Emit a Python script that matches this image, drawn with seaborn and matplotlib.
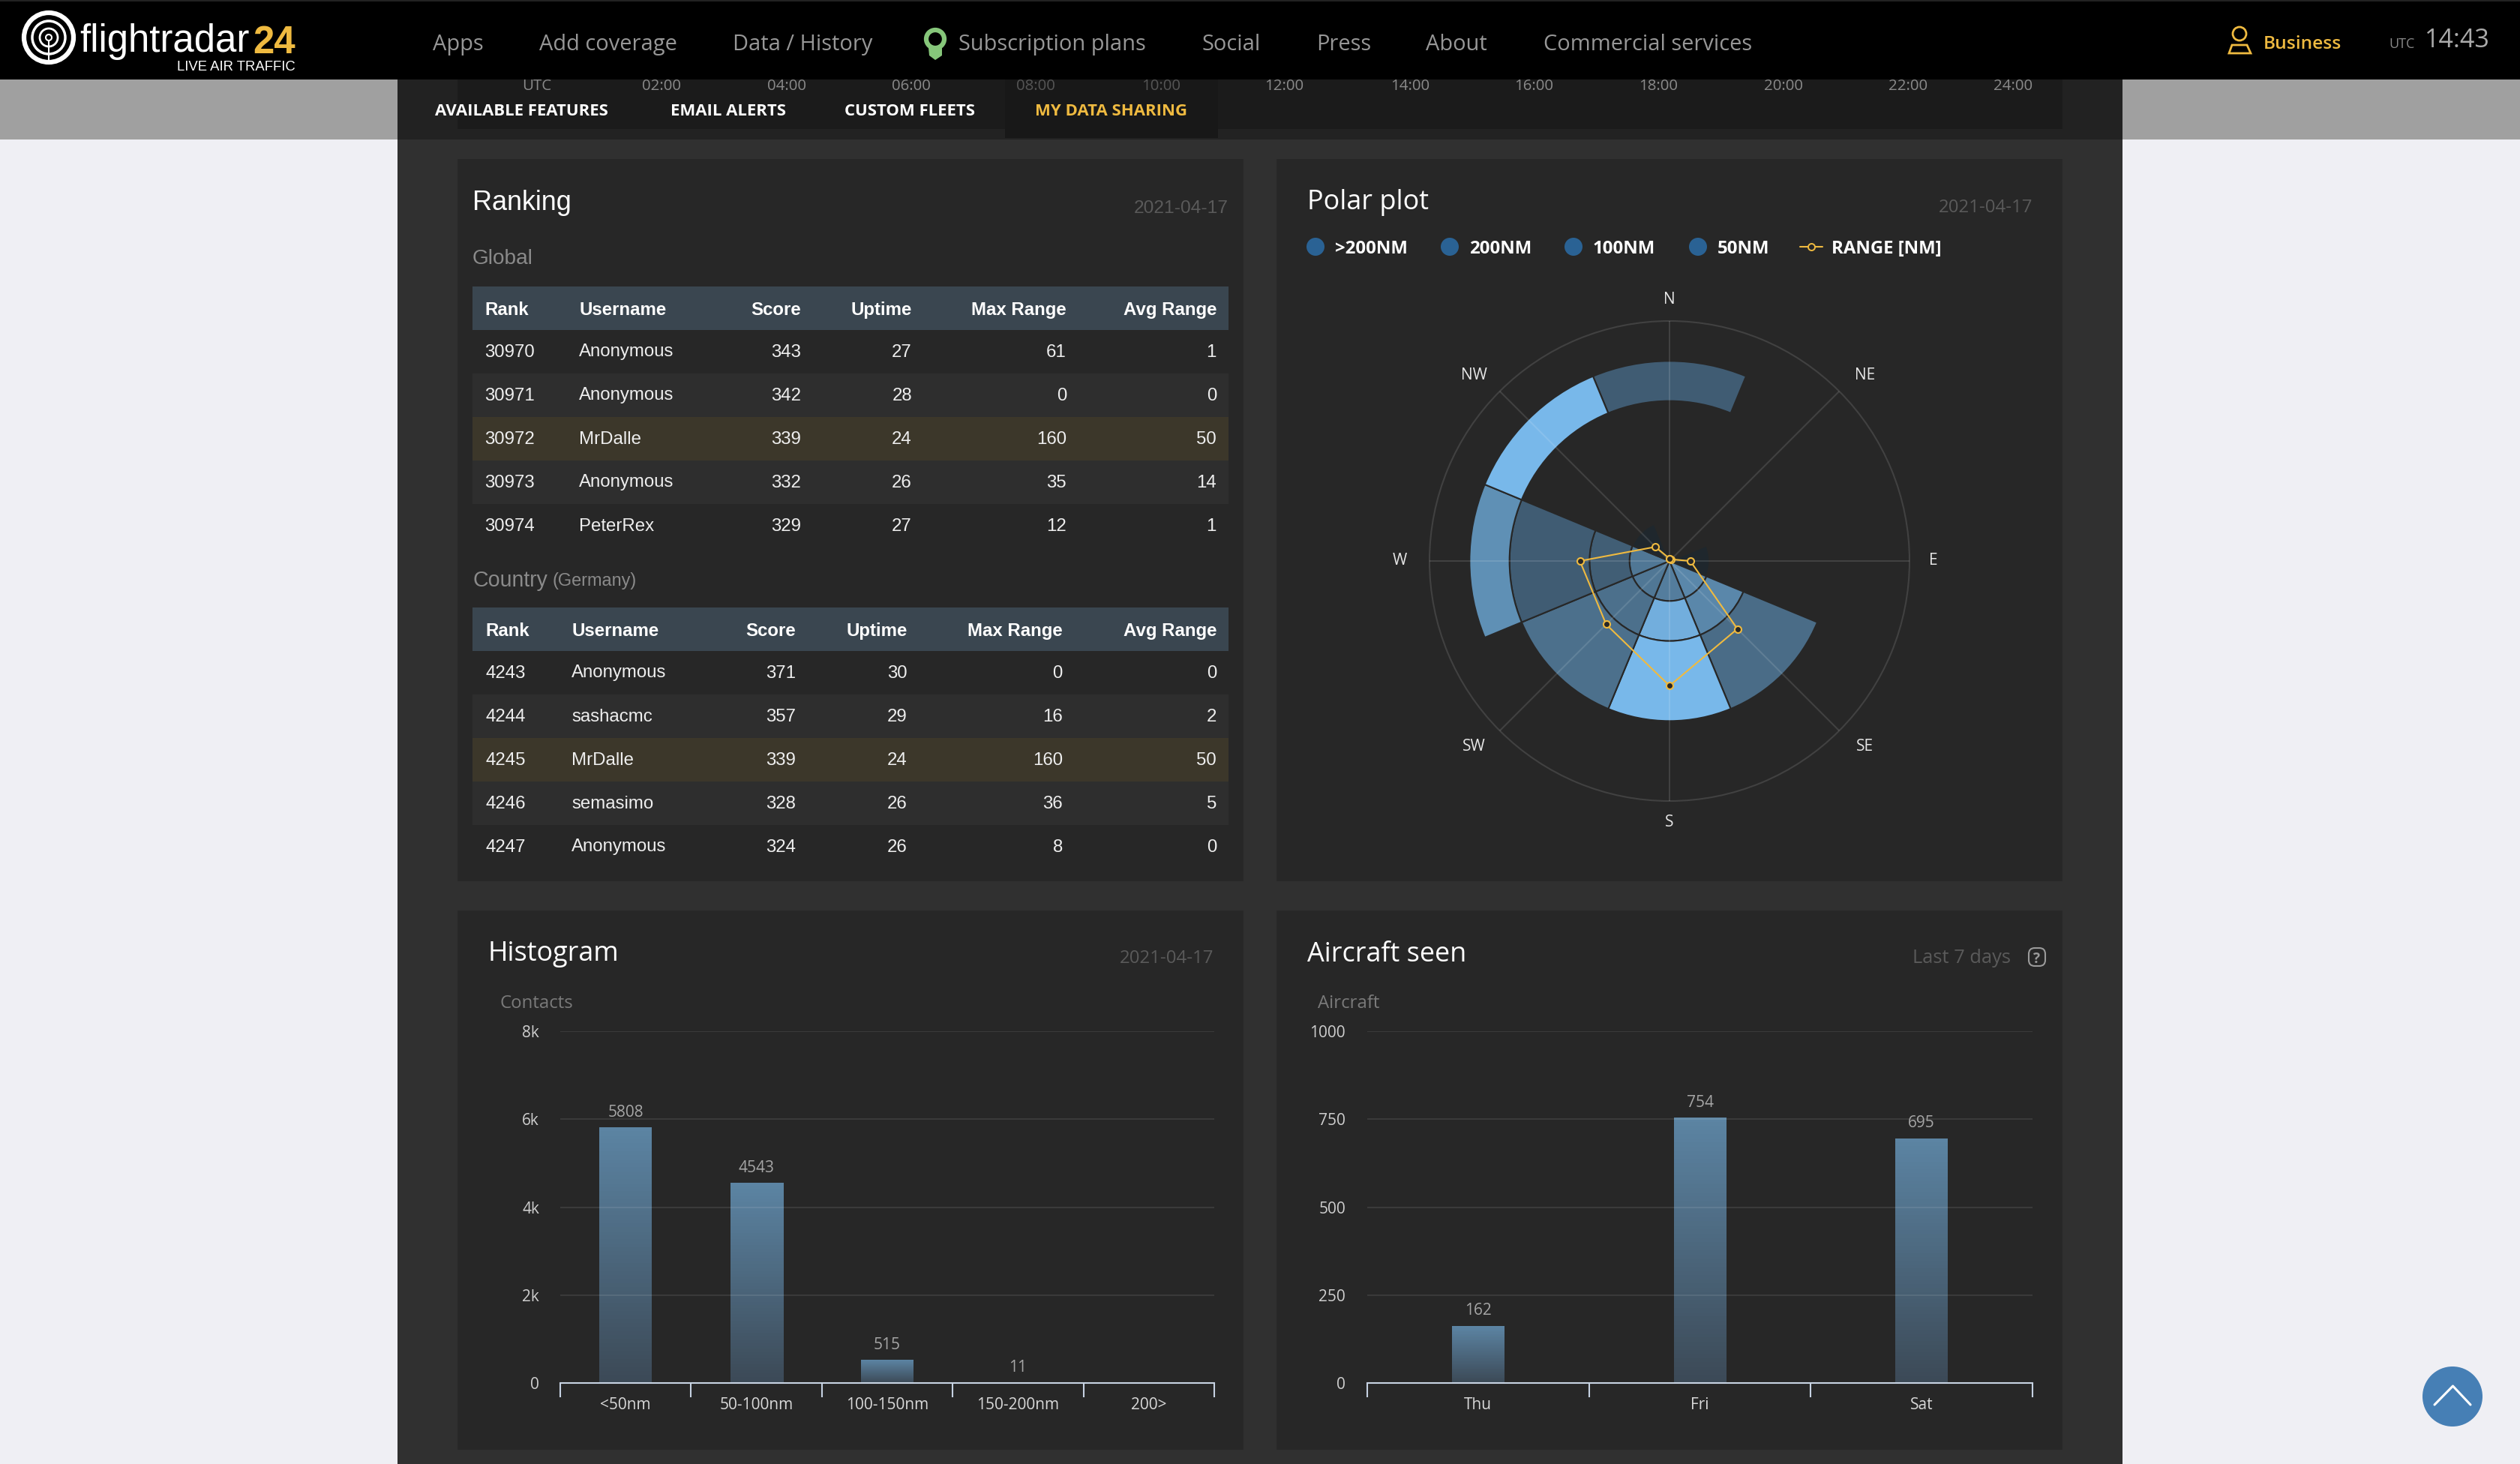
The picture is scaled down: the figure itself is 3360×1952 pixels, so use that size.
import numpy as np
import seaborn as sns
import matplotlib.pyplot as plt
from matplotlib import font_manager
from matplotlib.colors import LinearSegmentedColormap
from matplotlib.patches import Rectangle, Circle, FancyBboxPatch, Polygon

W, H = 3360, 1952

# ranking tables
table_cols = ["Rank", "Username", "Score", "Uptime", "Max Range", "Avg Range"]
global_rank = [30970, 30971, 30972, 30973, 30974]
global_user = ["Anonymous", "Anonymous", "MrDalle", "Anonymous", "PeterRex"]
global_score = [343, 342, 339, 332, 329]
global_uptime = [27, 28, 24, 26, 27]
global_max = [61, 0, 160, 35, 12]
global_avg = [1, 0, 50, 14, 1]
country_rank = [4243, 4244, 4245, 4246, 4247]
country_user = ["Anonymous", "sashacmc", "MrDalle", "semasimo", "Anonymous"]
country_score = [371, 357, 339, 328, 324]
country_uptime = [30, 29, 24, 26, 26]
country_max = [0, 16, 160, 36, 8]
country_avg = [0, 2, 50, 5, 0]

# polar plot, NaN = nothing drawn in that cell
directions = ["N", "NE", "E", "SE", "S", "SW", "W", "NW"]
ring_inner = [0, 50, 100, 200]
ring_outer = [50, 100, 200, 250]
cells_50 = [np.nan, np.nan, 0.0, 0.66, 0.59, 0.55, 0.55, 0.0]
cells_100 = [np.nan, np.nan, np.nan, 0.66, 0.93, 0.5, 0.38, np.nan]
cells_200 = [np.nan, np.nan, np.nan, 0.48, 1.0, 0.5, 0.37, np.nan]
cells_over = [0.37, np.nan, np.nan, np.nan, np.nan, np.nan, 0.72, 1.0]
range_nm = [3, 3, 26, 120, 156, 112, 112, 25]

# bar panels
hist_cats = ["<50nm", "50-100nm", "100-150nm", "150-200nm", "200>"]
hist_vals = [5808, 4543, 515, 11, 0]
hist_ticks = [0, 2000, 4000, 6000, 8000]
hist_tick_labels = ["0", "2k", "4k", "6k", "8k"]
seen_cats = ["Thu", "Fri", "Sat"]
seen_vals = [162, 754, 695]
seen_ticks = [0, 250, 500, 750, 1000]
seen_tick_labels = ["0", "250", "500", "750", "1000"]

nav_items = ["Apps", "Add coverage", "Data / History", "Subscription plans", "Social", "Press", "About", "Commercial services"]
nav_x = [577, 719, 977, 1278, 1602, 1755, 1901, 2058]
time_labels = ["UTC", "02:00", "04:00", "06:00", "08:00", "10:00", "12:00", "14:00", "16:00", "18:00", "20:00", "22:00", "24:00"]
time_x = [716, 882, 1049, 1215, 1381, 1548, 1712, 1880, 2045, 2211, 2378, 2544, 2684]
tabs = ["AVAILABLE FEATURES", "EMAIL ALERTS", "CUSTOM FLEETS", "MY DATA SHARING"]
tabs_x = [580, 894, 1126, 1380]
legend_names = [">200NM", "200NM", "100NM", "50NM"]
legend_dot_x = [1754, 1933, 2098, 2264]

PANEL = "#272727"
YELLOW = "#efba40"
OPEN = "Open Sans"
ARIAL = "Liberation Sans"
installed = {f.name for f in font_manager.fontManager.ttflist}
NARROW = "Liberation Sans Narrow" if "Liberation Sans Narrow" in installed else ARIAL

sns.set_style("dark")
plt.rcParams["font.family"] = [OPEN, "DejaVu Sans"]
plt.rcParams["axes.facecolor"] = "none"

fig = plt.figure(figsize=(W / 100, H / 100), dpi=100, facecolor="#efeff4")

# page chrome drawn in pixel coordinates
bg = fig.add_axes([0, 0, 1, 1], zorder=0)
bg.set_xlim(0, W)
bg.set_ylim(H, 0)
bg.axis("off")


def box(x0, y0, x1, y1, color, z=1):
    bg.add_patch(Rectangle((x0, y0), x1 - x0, y1 - y0, color=color, lw=0, zorder=z))


def label(x, y, s, px, color, ha="left", weight="normal", family=OPEN, z=5):
    bg.text(x, y, s, fontsize=px * 0.72, color=color, ha=ha, va="center_baseline",
            fontweight=weight, family=[family, "DejaVu Sans"], zorder=z)


def axes_px(x0, y0, x1, y1, **kw):
    return fig.add_axes([x0 / W, 1 - y1 / H, (x1 - x0) / W, (y1 - y0) / H], zorder=2, **kw)


box(0, 106, 530, 186, "#a0a0a0")
box(2830, 106, W, 186, "#a0a0a0")
box(530, 106, 2830, H, "#303030")
box(530, 106, 2830, 186, "#222222")
box(610, 106, 2750, 172, "#1b1b1b")
box(1340, 106, 1624, 184, "#181818", z=2)
box(0, 0, W, 106, "#000000", z=4)
box(0, 0, W, 2, "#222222", z=4)

for s, x in zip(time_labels, time_x):
    dim = s in ("08:00", "10:00")
    label(x, 112, s, 20.5, "#555555" if dim else "#8a8a8a", ha="center", z=3)

for s, x in zip(tabs, tabs_x):
    label(x, 146, s, 22.2, YELLOW if s.startswith("MY") else "#ffffff", weight="bold", z=3)

# nav bar
for s, x in zip(nav_items, nav_x):
    label(x, 56, s, 29, "#979797")
label(3018, 56, "Business", 24.5, YELLOW, weight="semibold")
label(3185, 57, "UTC", 18, "#888888")
label(3233, 50, "14:43", 34, "#aaaaaa")
bg.add_patch(Circle((2986, 45), 9, fill=False, ec=YELLOW, lw=2, zorder=5))
bg.add_patch(Polygon([(2972, 71), (2976, 60), (2996, 60), (3001, 71)], fill=False, ec=YELLOW, lw=2, zorder=5))
bg.add_patch(Circle((1247, 52), 12, fill=False, ec="#86c67a", lw=4.5, zorder=5))
bg.add_patch(Polygon([(1238, 64), (1256, 64), (1256, 74), (1247, 80), (1239, 74)], color="#86c67a", lw=0, zorder=5))

# logo
for r, lw in [(33, 4.5), (22, 2.5), (12, 2), (4, 1.5)]:
    bg.add_patch(Circle((65, 50), r, fill=False, ec="#ffffff", lw=lw, zorder=5))
bg.plot([65, 65], [54, 80], color="#ffffff", lw=1.5, zorder=5)
label(106, 50, "flightradar", 51, "#ffffff", family=NARROW)
label(337, 52, "24", 51, YELLOW, weight="bold", family=NARROW)
label(236, 88, "LIVE AIR TRAFFIC", 18.5, "#ffffff", family=ARIAL)

# panels
box(610, 212, 1658, 1175, PANEL)
box(1702, 212, 2750, 1175, PANEL)
box(610, 1214, 1658, 1933, PANEL)
box(1702, 1214, 2750, 1933, PANEL)


def draw_table(top, col_x, *columns):
    box(630, top, 1638, top + 58, "#3a4650")
    for name, x in zip(table_cols, col_x):
        label(x, top + 29, name, 24, "#ffffff", ha="left" if name in ("Rank", "Username") else "right",
              weight="bold", family=ARIAL)
    for i, row in enumerate(zip(*columns)):
        y = top + 58 * (i + 1)
        if i == 2:
            box(630, y, 1638, y + 58, "#3c372a")
        elif i % 2 == 1:
            box(630, y, 1638, y + 58, "#2e2e2e")
        for j, (val, x) in enumerate(zip(row, col_x)):
            label(x, y + 27, str(val), 24, "#eeeeee", ha="left" if j < 2 else "right", family=ARIAL)


label(630, 267, "Ranking", 36, "#ffffff", family=ARIAL)
label(1638, 275, "2021-04-17", 24.5, "#5a5a5a", ha="right", family=ARIAL)
label(630, 342, "Global", 28, "#8a8a8a", family=ARIAL)
draw_table(382, [646, 772, 1068, 1216, 1422, 1622], global_rank, global_user, global_score,
           global_uptime, global_max, global_avg)
label(630, 771, "Country", 28.5, "#8a8a8a", family=ARIAL)
label(737, 772, "(Germany)", 23.5, "#8a8a8a", family=ARIAL)
draw_table(810, [647, 762, 1061, 1210, 1417, 1622], country_rank, country_user, country_score,
           country_uptime, country_max, country_avg)

# polar plot
label(1743, 266, "Polar plot", 36, "#ffffff")
label(2710, 274, "2021-04-17", 24, "#5a5a5a", ha="right")
for s, x in zip(legend_names, legend_dot_x):
    bg.add_patch(Circle((x, 329), 12, color="#2a6294", lw=0, zorder=5))
    label(x + 26, 329, s, 24, "#ffffff", weight="bold")
label(2442, 329, "RANGE [NM]", 24, "#ffffff", weight="bold")
bg.plot([2400, 2430], [329, 329], color=YELLOW, lw=1.5, zorder=5)
bg.plot([2415], [329], "o", mfc=PANEL, mec=YELLOW, ms=6.5, mew=1.4, zorder=6)

heat = LinearSegmentedColormap.from_list("heat", ["#1f272d", "#78b8ea"])
polar = axes_px(1906, 428, 2546, 1068, projection="polar")
polar.set_theta_zero_location("N")
polar.set_theta_direction(-1)
theta = np.deg2rad(np.arange(len(directions)) * 360 / len(directions))
sector = np.deg2rad(360 / len(directions))
for cells, lo, hi in zip([cells_50, cells_100, cells_200, cells_over], ring_inner, ring_outer):
    for t, v in zip(theta, cells):
        if not np.isnan(v):
            polar.bar(t, hi - lo, width=sector, bottom=lo, color=heat(v), edgecolor=PANEL, linewidth=1.5, zorder=1)
polar.set_rlim(0, 300)
polar.set_yticks([])
polar.set_xticks(theta, [""] * len(theta))
# direction labels are placed by hand, the diagonals sit a bit wider than tall
label_r = [327, 337, 330, 337, 327, 337, 337, 337]
label_shift = [0, 1.4, 0, -1.4, 0, 1.4, 0, -1.4]
for t, s, r, d in zip(theta, directions, label_r, label_shift):
    polar.text(t + np.deg2rad(d), r, s, fontsize=15, color="#e6e6e6", ha="center", va="center")
polar.set_axisbelow(False)
polar.grid(axis="x", color="#ffffff", alpha=0.12, lw=1.5)
polar.grid(axis="y", visible=False)
polar.spines["polar"].set_color("#414141")
polar.spines["polar"].set_linewidth(1.5)
loop_t = np.append(theta, theta[0])
loop_r = np.append(range_nm, range_nm[0])
sns.lineplot(x=loop_t, y=loop_r, sort=False, estimator=None, color=YELLOW, lw=1.5, marker="o", ms=6.5,
             mfc=PANEL, mec=YELLOW, mew=1.5, ax=polar, zorder=4)
polar.set_xlabel("")
polar.set_ylabel("")


def draw_bars(rect, cats, vals, ticks, tick_labels, pad_px):
    ax = axes_px(*rect)
    sns.barplot(x=cats, y=vals, color="#5b82a0", width=70 / ((rect[2] - rect[0]) / len(cats)), saturation=1, ax=ax)
    bars = ax.containers[0]
    grad = LinearSegmentedColormap.from_list("bar", ["#3c4a57", "#5c84a3"])
    for b in bars:
        b.set_alpha(0)
        x0, x1 = b.get_x(), b.get_x() + b.get_width()
        ax.imshow(np.linspace(1, 0, 64).reshape(-1, 1), cmap=grad, extent=(x0, x1, 0, b.get_height()),
                  aspect="auto", zorder=2)
    ax.bar_label(bars, labels=[str(v) if v else "" for v in vals], fontsize=15, color="#a6a6a6", padding=7)
    ax.set_xlim(-0.5, len(cats) - 0.5)
    ax.set_ylim(0, ticks[-1])
    ax.set_yticks(ticks, tick_labels, fontsize=15, color="#cfcfcf")
    ax.set_xticks(np.arange(len(cats) + 1) - 0.5, [""] * (len(cats) + 1))
    ax.set_xticks(np.arange(len(cats)), cats, minor=True, fontsize=15, color="#d8d8d8")
    ax.tick_params(axis="x", which="major", length=14, width=1.5, color="#c6d2e2", bottom=True)
    ax.tick_params(axis="x", which="minor", length=0, pad=14)
    ax.tick_params(axis="y", length=0, pad=pad_px * 0.72)
    ax.set_axisbelow(False)
    ax.grid(axis="y", color="#ffffff", alpha=0.09, lw=1.5)
    ax.grid(axis="x", visible=False)
    for side in ("top", "left", "right"):
        ax.spines[side].set_visible(False)
    ax.spines["bottom"].set_color("#c6d2e2")
    ax.spines["bottom"].set_linewidth(1.5)
    return ax


label(650, 1268, "Histogram", 36, "#ffffff")
label(1618, 1275, "2021-04-17", 24, "#5a5a5a", ha="right")
label(667, 1335, "Contacts", 24, "#7a7a7a")
draw_bars((747, 1375, 1619, 1844), hist_cats, hist_vals, hist_ticks, hist_tick_labels, 28)

label(1743, 1268, "Aircraft seen", 36, "#ffffff")
label(2681, 1275, "Last 7 days", 25.5, "#5a5a5a", ha="right")
label(1757, 1335, "Aircraft", 24, "#7a7a7a")
bg.add_patch(FancyBboxPatch((2705, 1264), 22, 24, boxstyle="round,pad=0,rounding_size=8", fill=False, ec="#9a9a9a", lw=1.5, zorder=5))
label(2716, 1276, "?", 19, "#9a9a9a", ha="center", weight="bold")
draw_bars((1823, 1375, 2710, 1844), seen_cats, seen_vals, seen_ticks, seen_tick_labels, 29)

# back to top button
bg.add_patch(Circle((3270, 1862), 40, color="#467fb5", lw=0, zorder=6))
bg.plot([3246, 3270.5, 3294], [1873, 1848, 1873], color="#ffffff", lw=2.2, zorder=7)

fig.savefig("out.png", dpi=100, facecolor=fig.get_facecolor())
